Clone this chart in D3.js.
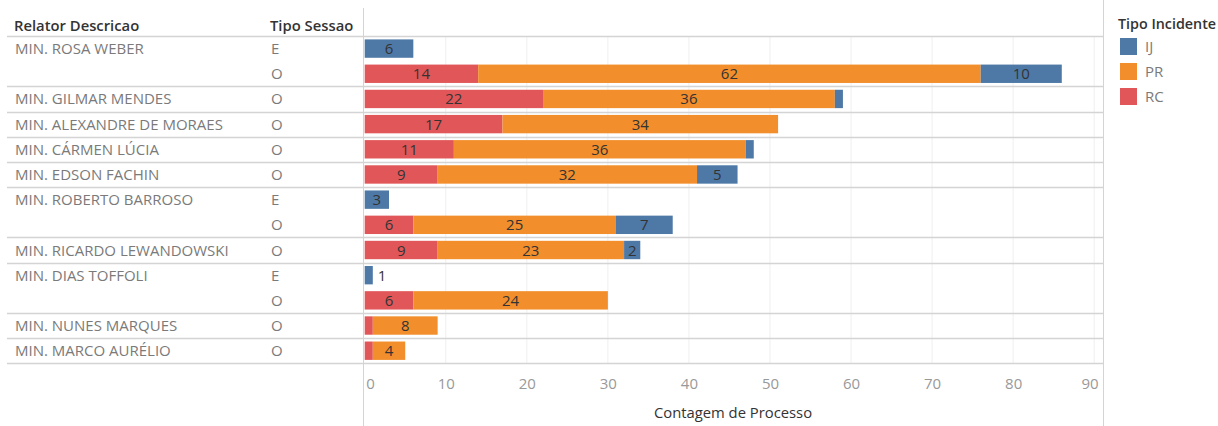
<!DOCTYPE html>
<html><head><meta charset="utf-8">
<script src="https://cdn.jsdelivr.net/npm/d3@7"></script>
<style>body{margin:0;background:#fff}svg{display:block}</style>
</head><body>
<script>
// ---- data ----
const relators = ["MIN. ROSA WEBER","MIN. ROSA WEBER","MIN. GILMAR MENDES","MIN. ALEXANDRE DE MORAES","MIN. CÁRMEN LÚCIA","MIN. EDSON FACHIN","MIN. ROBERTO BARROSO","MIN. ROBERTO BARROSO","MIN. RICARDO LEWANDOWSKI","MIN. DIAS TOFFOLI","MIN. DIAS TOFFOLI","MIN. NUNES MARQUES","MIN. MARCO AURÉLIO"];
const sessions = ["E","O","O","O","O","O","E","O","O","E","O","O","O"];
const seriesKeys = ["RC","PR","IJ"];
const rcValues = [0,14,22,17,11,9,0,6,9,0,6,1,1];
const prValues = [0,62,36,34,36,32,0,25,23,0,24,8,4];
const ijValues = [6,10,1,0,1,5,3,7,2,1,0,0,0];
const legendKeys = ["IJ","PR","RC"];
const colors = {IJ:"#4e79a7", PR:"#f28e2b", RC:"#e15759"};
const xTicks = [0,10,20,30,40,50,60,70,80,90];

const W=1218,H=426;
const svg=d3.select("body").append("svg").attr("width",W).attr("height",H);
const font="'Open Sans', sans-serif";
const FS=15;

const rows = relators.map((r,i)=>({id:i, relator:r, session:sessions[i], RC:rcValues[i], PR:prValues[i], IJ:ijValues[i]}));
const x=d3.scaleLinear().domain([0,90]).range([364.7,1094.2]);
const y=d3.scaleBand().domain(rows.map(d=>d.id)).range([36,363.3]).paddingInner(0.27).paddingOuter(0.135);
const step=y.step();
const rowTop=i=>36+i*step;

// gridlines
svg.append("g").selectAll("line").data(xTicks.slice(1)).join("line")
 .attr("x1",d=>x(d)).attr("x2",d=>x(d)).attr("y1",36).attr("y2",363.3)
 .attr("stroke","#efefef").attr("stroke-width",1);

// vertical dividers
svg.append("line").attr("x1",363.5).attr("x2",363.5).attr("y1",8).attr("y2",H).attr("stroke","#d4d4d4");
svg.append("line").attr("x1",1103.5).attr("x2",1103.5).attr("y1",0).attr("y2",H).attr("stroke","#d4d4d4");

// separators: header line and between relator groups
const sepIdx=[0];
rows.forEach((d,i)=>{ if(i===rows.length-1 || rows[i+1].relator!==d.relator) sepIdx.push(i+1); });
svg.append("g").selectAll("line").data(sepIdx).join("line")
 .attr("x1",7).attr("x2",1103.5).attr("y1",i=>Math.round(rowTop(i))+0.5).attr("y2",i=>Math.round(rowTop(i))+0.5)
 .attr("stroke","#d4d4d4").attr("stroke-width",1.5);

// headers
svg.append("text").attr("x",14).attr("y",30.5).text("Relator Descricao").attr("font-family",font).attr("font-size",14.8).attr("font-weight",600).attr("fill","#333");
svg.append("text").attr("x",270).attr("y",30.5).text("Tipo Sessao").attr("font-family",font).attr("font-size",14.8).attr("font-weight",600).attr("fill","#333");

// row labels
rows.forEach((d,i)=>{
  const first = i===0 || rows[i-1].relator!==d.relator;
  const cy=y(d.id)+y.bandwidth()/2;
  if(first) svg.append("text").attr("x",15).attr("y",cy+5.5).text(d.relator).attr("font-family",font).attr("font-size",FS).attr("fill","#7a7a7a");
  svg.append("text").attr("x",271).attr("y",cy+5.5).text(d.session).attr("font-family",font).attr("font-size",FS).attr("fill","#7a7a7a");
});

// stacked bars
const stack=d3.stack().keys(seriesKeys)(rows);
const gBars=svg.append("g");
stack.forEach(s=>{
  gBars.append("g").selectAll("rect").data(s.filter(d=>d[1]>d[0])).join("rect")
   .attr("x",d=>x(d[0])).attr("width",d=>x(d[1])-x(d[0]))
   .attr("y",d=>y(d.data.id)).attr("height",y.bandwidth())
   .attr("fill",colors[s.key]);
});
// labels
stack.forEach(s=>{
  s.forEach(d=>{
    const v=d[1]-d[0]; if(v<=0) return;
    const w=x(d[1])-x(d[0]);
    const cy=y(d.data.id)+y.bandwidth()/2+5.5;
    const total=d.data.RC+d.data.PR+d.data.IJ;
    if(w>=12){
      gBars.append("text").attr("x",(x(d[0])+x(d[1]))/2).attr("y",cy).attr("text-anchor","middle").text(v)
       .attr("font-family",font).attr("font-size",FS).attr("fill","#333");
    } else if(v===total){
      gBars.append("text").attr("x",x(d[1])+5).attr("y",cy).text(v)
       .attr("font-family",font).attr("font-size",FS).attr("fill","#333");
    }
  });
});

// axis
const ax=svg.append("g").attr("transform","translate(0,389)")
 .call(d3.axisBottom(x).tickValues(xTicks).tickSize(0).tickPadding(0));
ax.select(".domain").remove();
ax.selectAll("text").attr("font-family",font).attr("font-size",FS).attr("fill","#999").attr("dy",0);
ax.selectAll(".tick").filter(d=>d===0).select("text").attr("text-anchor","start").attr("dx",1);
ax.selectAll(".tick").filter(d=>d===90).select("text").attr("text-anchor","end").attr("dx",4);
svg.append("text").attr("x",733).attr("y",418).attr("text-anchor","middle").text("Contagem de Processo")
 .attr("font-family",font).attr("font-size",14.8).attr("font-weight",500).attr("fill","#333");

// legend
svg.append("text").attr("x",1118).attr("y",29).text("Tipo Incidente").attr("font-family",font).attr("font-size",14.3).attr("font-weight",600).attr("fill","#333");
const lg=svg.append("g").selectAll("g").data(legendKeys).join("g").attr("transform",(d,i)=>`translate(1120,${38+i*25})`);
lg.append("rect").attr("width",17).attr("height",17).attr("fill",d=>colors[d]);
lg.append("text").attr("x",25).attr("y",14).text(d=>d).attr("font-family",font).attr("font-size",FS).attr("fill","#7a7a7a");
</script>
</body></html>
